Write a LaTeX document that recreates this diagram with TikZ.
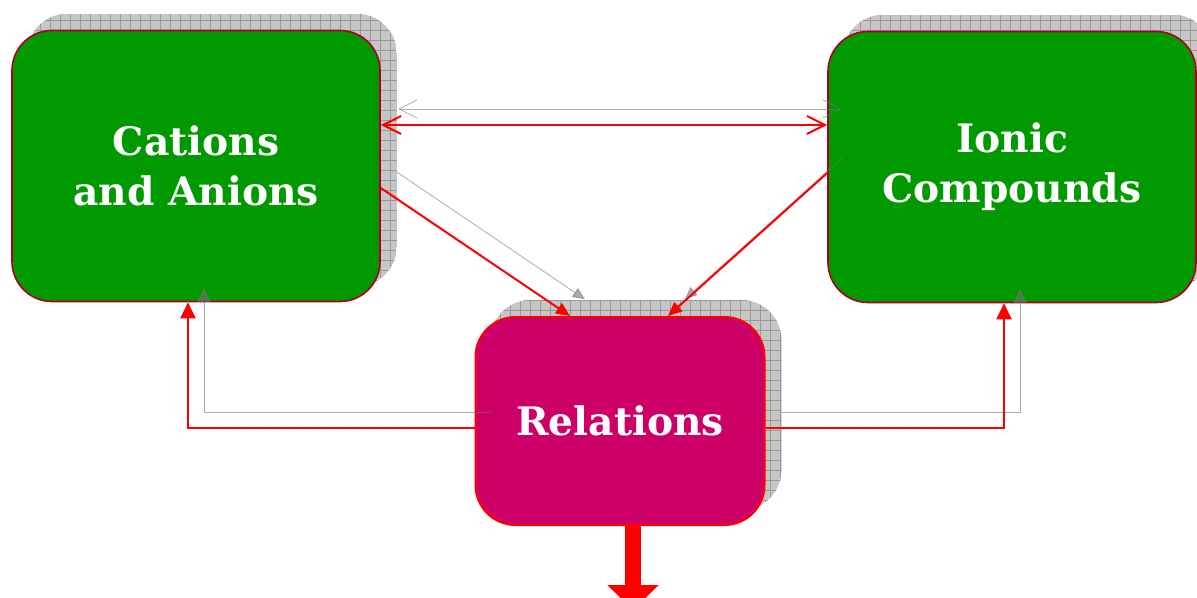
\documentclass[tikz,border=0pt]{standalone}
\usepackage{fontspec}
\setmainfont{DejaVu Serif}
\usetikzlibrary{arrows.meta,backgrounds}

\definecolor{boxgreen}{RGB}{0,153,0}
\definecolor{boxmagenta}{RGB}{204,0,102}
\definecolor{edgered}{RGB}{170,0,40}

\newcommand{\boxshadow}[1]{%
  \begin{scope}
    \path[clip, rounded corners=20pt] ([shift={(8pt,8pt)}]#1.south west) rectangle ([shift={(8pt,8pt)}]#1.north east);
    \fill[gray!45] ([shift={(8pt,8pt)}]#1.south west) rectangle ([shift={(8pt,8pt)}]#1.north east);
    \draw[gray!80, line width=0.4pt, step=5pt] ([shift={(8pt,8pt)}]#1.south west) grid ([shift={(8pt,8pt)}]#1.north east);
  \end{scope}}

\begin{document}
\begin{tikzpicture}[
    x=0.5pt, y=-0.5pt,
    topic/.style={draw=edgered, line width=0.8pt, fill=boxgreen, rounded corners=20pt,
                  minimum width=184pt, minimum height=135.5pt, align=center, text=white,
                  font=\fontsize{19.6}{25}\selectfont\bfseries},
    hub/.style={topic, draw=red, line width=1pt, fill=boxmagenta,
                minimum width=144.5pt, minimum height=104pt},
    shadowed/.style={preaction={draw=black!55, opacity=0.6,
                     transform canvas={shift={(8pt,8pt)}}}},
    link/.style={shadowed, draw=red, line width=1pt},
    open/.style={{Straight Barb[length=9pt,width=9pt]}-{Straight Barb[length=9pt,width=9pt]}},
    solid/.style={-{Triangle[length=7pt,width=6pt]}},
    elbow/.style={-{Triangle[length=8pt,width=7.5pt]}},
  ]
  \useasboundingbox (0,0) rectangle (1197,598);

  \node[topic] (ca) at (196,166) {Cations\\and Anions};
  \node[topic] (ic) at (1012,167) {Ionic\\Compounds};
  \node[hub] (rel) at (620,421) {Relations};

  \begin{scope}[on background layer]
    \boxshadow{ca}
    \boxshadow{ic}
    \boxshadow{rel}
  \end{scope}

  \draw[link, open] ([yshift=20.5pt]ca.east) -- ([yshift=21pt]ic.west);
  \draw[link, solid] ([yshift=-11pt]ca.east) -- ([xshift=-25pt]rel.north);
  \draw[link, solid] ([yshift=-3pt]ic.west) -- ([xshift=24pt]rel.north);
  \draw[link, elbow] ([yshift=-3.5pt]rel.west) -| ([xshift=-4pt]ca.south);
  \draw[link, elbow] ([yshift=-3.5pt]rel.east) -| ([xshift=-4pt]ic.south);

  \coordinate (drop) at ([xshift=6.5pt,yshift=-42pt]rel.south);
  \draw[red, line width=8pt, -{Triangle[length=12.5pt,width=25pt]}] ([xshift=6.5pt]rel.south) -- (drop);
\end{tikzpicture}
\end{document}
